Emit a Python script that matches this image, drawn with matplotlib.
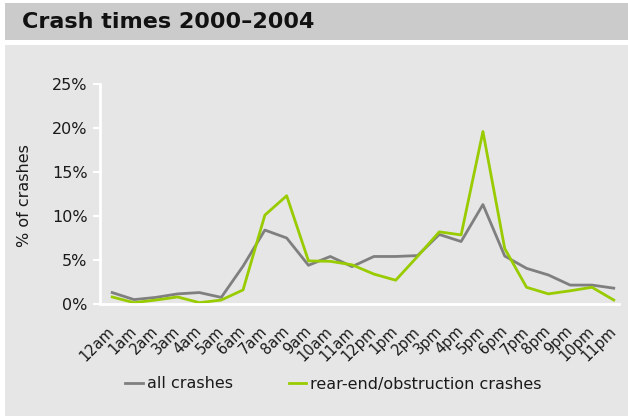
import matplotlib
matplotlib.use("Agg")
import matplotlib.pyplot as plt
from matplotlib.patches import Rectangle

plt.rcParams['font.family'] = ['DejaVu Sans']

hours = ["12am", "1am", "2am", "3am", "4am", "5am", "6am", "7am", "8am", "9am",
         "10am", "11am", "12pm", "1pm", "2pm", "3pm", "4pm", "5pm", "6pm", "7pm",
         "8pm", "9pm", "10pm", "11pm"]
all_crashes = [1.3, 0.5, 0.75, 1.15, 1.3, 0.75, 4.3, 8.4, 7.5, 4.4, 5.4, 4.25,
               5.4, 5.4, 5.5, 7.9, 7.1, 11.3, 5.45, 4.05, 3.3, 2.15, 2.15, 1.8]
rear_end = [0.8, 0.15, 0.45, 0.8, 0.15, 0.45, 1.6, 10.1, 12.3, 4.9, 4.85, 4.45,
            3.4, 2.7, 5.4, 8.2, 7.85, 19.6, 6.3, 1.9, 1.15, 1.5, 1.9, 0.45]
y_ticks = [0, 5, 10, 15, 20, 25]

W, H = 628, 416
fig = plt.figure(figsize=(W / 100, H / 100), dpi=100, facecolor="white")

# header band and light panel behind the chart
fig.patches.append(Rectangle((5 / W, 1 - 40 / H), 1, 37 / H, transform=fig.transFigure,
                             facecolor="#cbcbcb", edgecolor="none", zorder=0))
fig.patches.append(Rectangle((5 / W, 0), 1, 1 - 45 / H, transform=fig.transFigure,
                             facecolor="#e6e6e6", edgecolor="none", zorder=0))
fig.text(22 / W, 1 - 22 / H, "Crash times 2000\u20132004", fontsize=16, fontweight="bold",
         color="#111111", ha="left", va="center", zorder=3)

ax = fig.add_axes([100 / W, (H - 304) / H, 519 / W, 220 / H])
ax.set_zorder(2)
ax.set_facecolor("none")

x = list(range(len(hours)))
l1, = ax.plot(x, all_crashes, color="#7f7f7f", lw=2.0, label="all crashes")
l2, = ax.plot(x, rear_end, color="#99cc00", lw=2.0, label="rear-end/obstruction crashes")

ax.set_xlim(-0.56, 23.24)
ax.set_ylim(0, 25)
ax.set_yticks(y_ticks)
ax.set_yticklabels([f"{v}%" for v in y_ticks])
ax.set_xticks(x)
ax.set_xticklabels(hours, rotation=45, ha="right", va="center", rotation_mode="anchor")

for s in ["top", "right"]:
    ax.spines[s].set_visible(False)
for s in ["left", "bottom"]:
    ax.spines[s].set_color("white")
    ax.spines[s].set_linewidth(2)
ax.tick_params(axis="y", colors="white", length=5, width=1.5, labelsize=11.5,
               labelcolor="#1a1a1a", pad=4)
ax.tick_params(axis="x", length=0, labelsize=10.5, labelcolor="#1a1a1a", pad=18)

fig.text(25 / W, (H - 196) / H, "% of crashes", rotation=90, fontsize=11.5,
         color="#1a1a1a", ha="center", va="center", zorder=3)

leg = fig.legend(handles=[l1, l2], loc="center left", bbox_to_anchor=(111 / W, (H - 384) / H),
                 ncol=2, frameon=False, fontsize=11.5, handlelength=1.1, handletextpad=0.25,
                 columnspacing=3.5, labelcolor="#1a1a1a")
leg.set_zorder(3)

fig.savefig("out.png", dpi=100, facecolor="white")
